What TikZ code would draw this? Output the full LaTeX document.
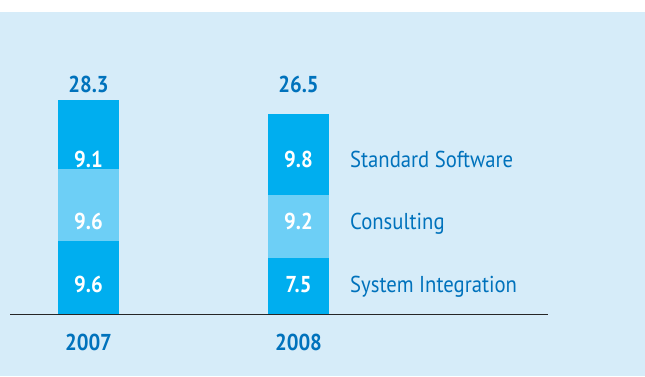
\documentclass[tikz,border=0pt]{standalone}
\usepackage{fontspec}
\setmainfont{PT Sans}
\definecolor{bgblue}{RGB}{214,236,249}
\definecolor{darkseg}{RGB}{0,174,239}
\definecolor{lightseg}{RGB}{109,207,246}
\definecolor{txtblue}{RGB}{0,114,188}
\newcommand{\cnd}[1]{\scalebox{0.9}[1]{#1}}
\tikzset{
  val/.style={anchor=base,text=white,font=\fontsize{23}{26}\selectfont\bfseries,inner sep=0pt},
  tot/.style={anchor=base,text=txtblue,font=\fontsize{23}{26}\selectfont\bfseries,inner sep=0pt},
  leg/.style={anchor=base west,text=txtblue,font=\fontsize{23}{26}\selectfont,inner sep=0pt},
}
\begin{document}
\begin{tikzpicture}[x=1pt,y=-1pt]
\useasboundingbox (0,0) rectangle (645,376);
\fill[white] (0,0) rectangle (645,12);
\fill[bgblue] (0,12) rectangle (645,376);
% bar 2007
\fill[darkseg] (58,100) rectangle (119,169);
\fill[lightseg] (58,169) rectangle (119,241);
\fill[darkseg] (58,241) rectangle (119,315);
% bar 2008
\fill[darkseg] (268,114) rectangle (329,195);
\fill[lightseg] (268,195) rectangle (329,258);
\fill[darkseg] (268,258) rectangle (329,315);
% axis
\coordinate (axl) at (10,314.5);
\coordinate (axr) at (548,314.5);
\draw[line width=1.1pt,black!85] (axl) -- (axr);
% values
\node[tot] (t1) at (88.5,92) {\cnd{28.3}};
\node[tot] (t2) at (298.5,92) {\cnd{26.5}};
\node[val] (a1) at (88.5,167) {\cnd{9.1}};
\node[val] (a2) at (88.5,229) {\cnd{9.6}};
\node[val] (a3) at (88.5,292) {\cnd{9.6}};
\node[val] (b1) at (298.5,167) {\cnd{9.8}};
\node[val] (b2) at (298.5,229) {\cnd{9.2}};
\node[val] (b3) at (298.5,292) {\cnd{7.5}};
\node[tot] (y1) at (88.5,350) {\cnd{2007}};
\node[tot] (y2) at (298.5,350) {\cnd{2008}};
\node[leg] (l1) at (350,167) {\cnd{Standard Software}};
\node[leg] (l2) at (350,229) {\cnd{Consulting}};
\node[leg] (l3) at (350,292) {\cnd{System Integration}};
\end{tikzpicture}
\end{document}
